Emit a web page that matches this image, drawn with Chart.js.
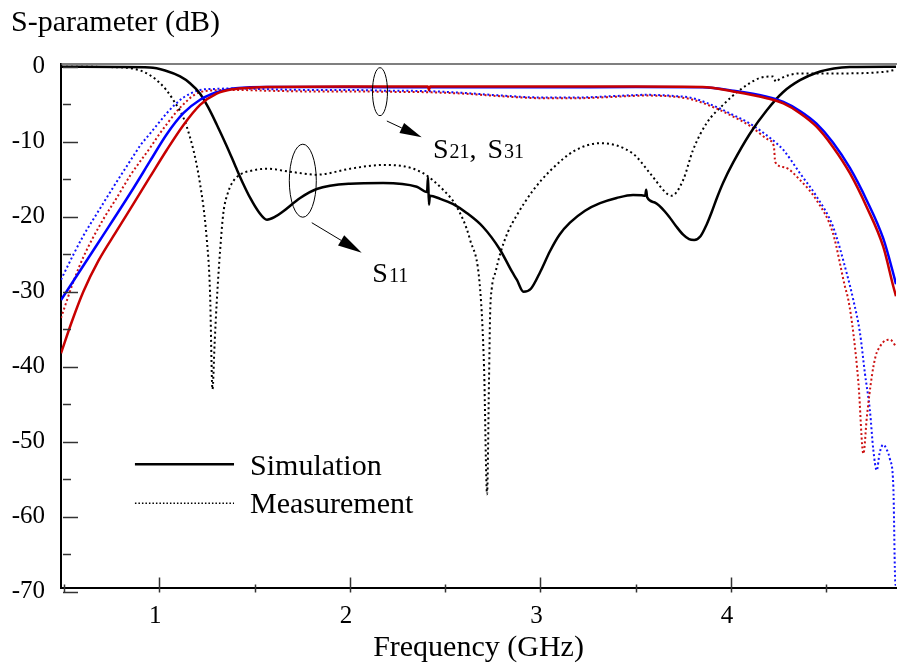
<!DOCTYPE html>
<html><head><meta charset="utf-8">
<script src="https://cdn.jsdelivr.net/npm/chart.js@4.4.1/dist/chart.umd.min.js"></script>
<style>html,body{margin:0;padding:0;background:#fff;}#wrap{width:897px;height:669px;}</style>
</head><body><div id="wrap"><canvas id="c" width="897" height="669"></canvas></div>
<script>
// ---------- data (frequency in GHz, level in dB) ----------
const s11SimF  = [0.484,0.79,0.95,1.03,1.109,1.161,1.214,1.256,1.301,1.354,1.40,1.44,1.477,1.52,1.565,1.608,1.649,1.739,1.826,2.001,2.174,2.351,2.405,2.41,2.415,2.42,2.473,2.54,2.613,2.7,2.788,2.85,2.876,2.911,2.95,3.0,3.05,3.1,3.155,3.234,3.313,3.4,3.486,3.53,3.55,3.555,3.56,3.6,3.663,3.71,3.749,3.78,3.807,3.84,3.873,3.90,3.926,3.96,4.011,4.1,4.188,4.273,4.362,4.449,4.54,4.624,4.866];
const s11SimDB = [0,-0.05,-0.1,-0.5,-1.3,-2.2,-3.6,-5.4,-7.7,-10.6,-13.3,-15.6,-17.5,-19.3,-20.4,-20.0,-19.3,-17.5,-16.3,-15.6,-15.5,-16.0,-16.7,-14.7,-18.4,-17.2,-17.6,-18.3,-19.5,-21.4,-24.4,-27.3,-28.4,-30.0,-29.6,-27.3,-24.6,-22.4,-20.8,-19.2,-18.2,-17.5,-17.1,-17.15,-17.2,-16.4,-17.4,-18.1,-19.6,-21.2,-22.4,-23.0,-23.1,-22.6,-21.0,-19.3,-17.5,-15.4,-12.8,-8.9,-5.8,-3.4,-1.8,-0.8,-0.25,-0.05,0];

const s11MeasF  = [0.484,0.741,0.899,1.004,1.072,1.144,1.213,1.249,1.266,1.279,1.29,1.301,1.319,1.336,1.36,1.387,1.43,1.476,1.564,1.686,1.826,2.002,2.174,2.264,2.384,2.489,2.561,2.631,2.684,2.704,2.72,2.73,2.736,2.745,2.765,2.788,2.83,2.876,2.92,2.961,3.05,3.18,3.313,3.486,3.575,3.663,3.689,3.749,3.801,3.873,3.958,4.047,4.152,4.22,4.236,4.257,4.362,4.535,4.797,4.866];
const s11MeasDB = [0,-0.05,-0.5,-2.2,-4.4,-8,-15.5,-23,-30,-43,-37,-31.5,-24.5,-19.5,-16.8,-15.3,-14.3,-13.9,-13.6,-14.0,-14.4,-13.6,-13.1,-13.2,-14.2,-16.4,-18.7,-23.1,-29.8,-40,-57,-42,-33,-29.5,-27.3,-25.0,-22.0,-19.8,-18.0,-16.5,-13.9,-11.2,-10.2,-11.6,-14.2,-16.9,-17.2,-15.1,-11.1,-7.5,-5.1,-3.1,-1.5,-1.3,-2.0,-1.6,-0.9,-0.9,-0.7,-0.4];

const s21SimF  = [0.484,0.689,0.864,0.951,1.039,1.126,1.214,1.301,1.387,1.476,1.564,2.0,2.5,3.0,3.5,3.85,4.011,4.188,4.275,4.362,4.449,4.535,4.624,4.712,4.799,4.852,4.866];
const s21SimDB = [-31.1,-23.1,-16.2,-12.6,-9.0,-6.2,-4.4,-3.4,-2.9,-2.75,-2.7,-2.72,-2.75,-2.75,-2.72,-2.75,-3.2,-4.0,-4.7,-5.9,-7.6,-10.1,-13.5,-17.8,-22.9,-27.6,-29.0];

const s31SimF  = [0.484,0.542,0.601,0.68,0.776,0.864,0.951,1.039,1.126,1.214,1.301,1.387,1.476,1.564,2.0,2.41,2.415,2.42,3.0,3.5,3.85,4.011,4.188,4.275,4.362,4.449,4.535,4.624,4.712,4.799,4.852,4.866];
const s31SimDB = [-38.2,-33.9,-30.0,-25.9,-21.9,-18.3,-14.7,-11.1,-7.8,-5.1,-3.6,-3.0,-2.8,-2.7,-2.65,-2.65,-3.1,-2.65,-2.65,-2.65,-2.7,-3.3,-4.2,-4.9,-6.2,-8.0,-10.7,-14.2,-18.7,-24.0,-29.3,-30.6];

const s21MeasF  = [0.484,0.55,0.6,0.689,0.75,0.8,0.864,0.9,0.952,1.0,1.039,1.08,1.127,1.17,1.214,1.3,1.387,1.564,1.8,2.0,2.2,2.4,2.6,2.8,3.0,3.2,3.4,3.55,3.7,3.8,3.926,4.0,4.1,4.22,4.275,4.362,4.449,4.535,4.607,4.642,4.677,4.703,4.729,4.747,4.765,4.78,4.799,4.82,4.835,4.852,4.861,4.866];
const s21MeasDB = [-28.4,-25.0,-22.6,-18.9,-16.4,-14.4,-11.9,-10.5,-8.9,-7.4,-6.2,-5.1,-4.1,-3.5,-3.1,-2.95,-2.9,-3.0,-3.1,-3.1,-3.2,-3.25,-3.5,-3.85,-4.1,-4.1,-3.9,-3.75,-3.9,-4.2,-5.4,-6.3,-7.6,-9.8,-11.1,-14.2,-17.3,-21.3,-27.5,-31.1,-35.5,-40.9,-45.8,-51.1,-53.8,-51.5,-50.4,-51.2,-52.4,-56,-68,-69.4];

const s31MeasF  = [0.484,0.55,0.601,0.7,0.776,0.85,0.952,1.0,1.05,1.1,1.127,1.17,1.214,1.3,1.4,1.564,1.8,2.0,2.2,2.4,2.6,2.8,3.0,3.2,3.4,3.55,3.7,3.8,3.926,4.0,4.1,4.2,4.225,4.232,4.28,4.362,4.449,4.535,4.598,4.616,4.642,4.669,4.695,4.713,4.739,4.76,4.782,4.81,4.835,4.866];
const s31MeasDB = [-33.5,-28.6,-25.4,-20.6,-17.5,-14.4,-10.8,-9.0,-7.3,-5.7,-5.0,-4.0,-3.4,-3.15,-3.1,-3.2,-3.3,-3.3,-3.35,-3.4,-3.6,-3.95,-4.2,-4.2,-4.0,-3.85,-4.0,-4.4,-5.6,-6.5,-7.9,-9.8,-10.6,-12.7,-13.4,-15.1,-17.8,-22.2,-29.3,-31.1,-35.5,-42.2,-51.6,-46.7,-41.3,-38.5,-37.3,-36.5,-36.4,-37.3];

const xTickValues  = [1, 2, 3, 4];
const xMinorValues = [0.5, 1.5, 2.5, 3.5, 4.5];
const yTickValues  = [0, -10, -20, -30, -40, -50, -60, -70];
const yMinorValues = [-5, -15, -25, -35, -45, -55, -65];

const xAxisTitle = 'Frequency (GHz)';
const yAxisTitle = 'S-parameter (dB)';
const legendLabels = ['Simulation', 'Measurement'];

// ---------- chart ----------
const SERIF = "'Liberation Serif', 'Times New Roman', serif";
const toXY = (fs, ds) => fs.map((f, i) => ({x: f, y: ds[i]}));

function arrow(ctx, x1, y1, x2, y2, head, w) {
  const a = Math.atan2(y2 - y1, x2 - x1);
  const bx = x2 - head * Math.cos(a), by = y2 - head * Math.sin(a);
  ctx.beginPath(); ctx.moveTo(x1, y1); ctx.lineTo(bx, by); ctx.stroke();
  ctx.beginPath(); ctx.moveTo(x2, y2);
  ctx.lineTo(bx + w / 2 * Math.sin(a), by - w / 2 * Math.cos(a));
  ctx.lineTo(bx - w / 2 * Math.sin(a), by + w / 2 * Math.cos(a));
  ctx.closePath(); ctx.fill();
}
function richText(ctx, parts, x, y) {
  let cx = x;
  for (const p of parts) {
    ctx.font = p.size + 'px ' + SERIF;
    ctx.fillText(p.t, cx, y);
    cx += ctx.measureText(p.t).width + (p.gap || 0);
  }
}

const decor = {
  id: 'decor',
  afterDraw(chart) {
    const {ctx, chartArea: a, scales: {x, y}} = chart;
    ctx.save();
    // top frame line
    ctx.strokeStyle = '#555'; ctx.lineWidth = 1.5;
    ctx.beginPath(); ctx.moveTo(a.left, a.top); ctx.lineTo(chart.width, a.top); ctx.stroke();
    // y tick marks (inside)
    ctx.strokeStyle = '#333'; ctx.lineWidth = 1.5;
    for (const v of yTickValues) { const py = Math.round(y.getPixelForValue(v)) + 0.5; ctx.beginPath(); ctx.moveTo(a.left + 2, py); ctx.lineTo(a.left + 17, py); ctx.stroke(); }
    for (const v of yMinorValues) { const py = Math.round(y.getPixelForValue(v)) + 0.5; ctx.beginPath(); ctx.moveTo(a.left + 2, py); ctx.lineTo(a.left + 10, py); ctx.stroke(); }
    // x tick marks (crossing)
    for (const v of xTickValues) { const px = Math.round(x.getPixelForValue(v)) + 0.5; ctx.beginPath(); ctx.moveTo(px, a.bottom - 10.5); ctx.lineTo(px, a.bottom + 4.5); ctx.stroke(); }
    for (const v of xMinorValues) { const px = Math.round(x.getPixelForValue(v)) + 0.5; ctx.beginPath(); ctx.moveTo(px, a.bottom - 3.5); ctx.lineTo(px, a.bottom + 4.5); ctx.stroke(); }

    const X = v => x.getPixelForValue(v), Y = v => y.getPixelForValue(v);
    ctx.strokeStyle = '#000'; ctx.fillStyle = '#000'; ctx.lineWidth = 1;
    // S21/S31 ellipse + arrow + label
    ctx.beginPath(); ctx.ellipse(X(2.158), Y(-3.33), 7.5, 24, 0, 0, Math.PI * 2); ctx.stroke();
    arrow(ctx, X(2.194), Y(-7.24), X(2.377), Y(-9.41), 22, 11);
    ctx.textBaseline = 'alphabetic'; ctx.textAlign = 'left';
    richText(ctx, [{t: 'S', size: 28, gap: 1}, {t: '21', size: 20}, {t: ',', size: 28, gap: 11}, {t: 'S', size: 28, gap: 1}, {t: '31', size: 20}], X(2.436), Y(-12.2));
    // S11 ellipse + arrow + label
    ctx.beginPath(); ctx.ellipse(X(1.753), Y(-15.2), 13.5, 36.5, 0, 0, Math.PI * 2); ctx.stroke();
    arrow(ctx, X(1.80), Y(-20.8), X(2.062), Y(-24.8), 24, 12);
    richText(ctx, [{t: 'S', size: 28, gap: 1}, {t: '11', size: 20}], X(2.118), Y(-28.7));
    // legend
    ctx.lineWidth = 2.5; ctx.setLineDash([]);
    ctx.beginPath(); ctx.moveTo(X(0.872), Y(-53.0)); ctx.lineTo(X(1.392), Y(-53.0)); ctx.stroke();
    ctx.lineWidth = 1.5; ctx.setLineDash([1.5, 2]);
    ctx.beginPath(); ctx.moveTo(X(0.872), Y(-58.2)); ctx.lineTo(X(1.392), Y(-58.2)); ctx.stroke();
    ctx.setLineDash([]);
    ctx.font = '30px ' + SERIF;
    ctx.fillText(legendLabels[0], X(1.476), Y(-54.4));
    ctx.fillText(legendLabels[1], X(1.476), Y(-59.5));
    ctx.restore();
  }
};

const ds = (label, fs, dbs, color, width, dash, order) => ({
  label, data: toXY(fs, dbs), borderColor: color, borderWidth: width, borderDash: dash,
  pointRadius: 0, fill: false, cubicInterpolationMode: 'monotone', order
});

new Chart(document.getElementById('c'), {
  type: 'line',
  data: {
    datasets: [
      ds('S31 sim', s31SimF, s31SimDB, '#c80000', 2.5, [], 0),
      ds('S21 sim', s21SimF, s21SimDB, '#0000ff', 2.5, [], 1),
      ds('S11 sim', s11SimF, s11SimDB, '#000000', 2.5, [], 2),
      ds('S31 meas', s31MeasF, s31MeasDB, '#cc1111', 2, [2, 2.5], 3),
      ds('S21 meas', s21MeasF, s21MeasDB, '#1111ff', 2, [2, 2.5], 4),
      ds('S11 meas', s11MeasF, s11MeasDB, '#000000', 2, [2, 3], 5)
    ]
  },
  options: {
    responsive: false, animation: false,
    layout: {padding: {left: 11, right: 1, top: 0, bottom: 0}},
    plugins: {
      legend: {display: false}, tooltip: {enabled: false},
      title: {display: true, text: yAxisTitle, align: 'start', color: '#000',
        font: {family: SERIF, size: 30, weight: 'normal'}, padding: {top: 5, bottom: 23}}
    },
    scales: {
      x: {
        type: 'linear', min: 0.484, max: 4.866,
        afterBuildTicks: s => { s.ticks = xTickValues.map(v => ({value: v})); },
        afterFit: s => { s.height = 81; },
        grid: {display: false, drawTicks: false},
        border: {display: true, color: '#000', width: 2},
        ticks: {color: '#000', font: {family: SERIF, size: 25}, padding: 13, labelOffset: -4, autoSkip: false, maxRotation: 0},
        title: {display: true, text: xAxisTitle, color: '#000', font: {family: SERIF, size: 30}, padding: {top: 0, bottom: 3}}
      },
      y: {
        type: 'linear', min: -69.5, max: 0.36,
        afterBuildTicks: s => { s.ticks = yTickValues.map(v => ({value: v})); },
        afterFit: s => { s.width = 50; },
        grid: {display: false, drawTicks: false},
        border: {display: true, color: '#000', width: 2},
        ticks: {color: '#000', font: {family: SERIF, size: 25}, padding: 16}
      }
    }
  },
  plugins: [decor]
});
</script></body></html>
